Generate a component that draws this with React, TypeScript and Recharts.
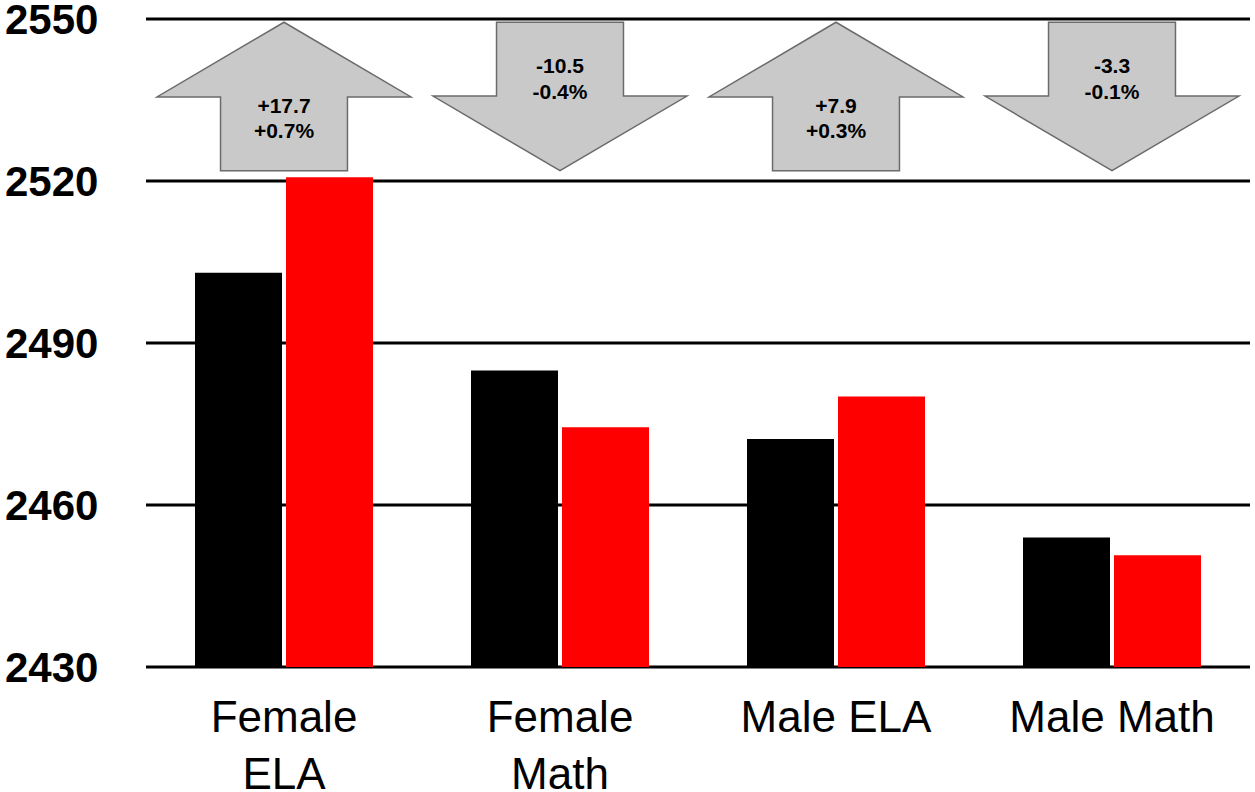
import { Bar, BarChart, CartesianGrid, ReferenceArea, XAxis, YAxis } from "recharts";

const categories = ["Female ELA", "Female Math", "Male ELA", "Male Math"];
const before = [2503.0, 2484.9, 2472.2, 2454.0];
const after = [2520.7, 2474.4, 2480.1, 2450.7];
const changes = ["+17.7", "-10.5", "+7.9", "-3.3"];
const percents = ["+0.7%", "-0.4%", "+0.3%", "-0.1%"];
const yTicks = [2430, 2460, 2490, 2520, 2550];

// arrows sit between these two values
const ARROW_TOP = 2549.4;
const ARROW_BOTTOM = 2521.9;

const FONT = "'Liberation Sans', Arial, sans-serif";

const data = categories.map((name, i) => ({
    name,
    before: before[i],
    after: after[i],
}));

const YTick = (props: any) => {
    const { y, payload } = props;
    return (
        <text x={5} y={y + 15} fontSize={42} fontWeight="bold" fontFamily={FONT} fill="#000">
            {payload.value}
        </text>
    );
};

// long labels break onto two lines, like the original
const XTick = (props: any) => {
    const { x, y, payload } = props;
    const label: string = payload.value;
    const lines = label.length > 9 ? label.split(" ") : [label];
    return (
        <text x={x} y={y + 65} textAnchor="middle" fontSize={44} fontFamily={FONT} fill="#000">
            {lines.map((l, i) => (
                <tspan key={i} x={x} dy={i === 0 ? 0 : 57}>
                    {l}
                </tspan>
            ))}
        </text>
    );
};

interface ArrowProps {
    x?: number;
    y?: number;
    width?: number;
    height?: number;
    change: string;
    percent: string;
}

const Arrow = ({ x = 0, y = 0, width = 0, height = 0, change, percent }: ArrowProps) => {
    const up = !change.startsWith("-");
    const cx = x + width / 2;
    const headW = width * 0.92;
    const shaftW = width * 0.46;
    const headH = height * 0.503;
    let pts: number[][];
    if (up) {
        pts = [
            [cx, y],
            [cx + headW / 2, y + headH],
            [cx + shaftW / 2, y + headH],
            [cx + shaftW / 2, y + height],
            [cx - shaftW / 2, y + height],
            [cx - shaftW / 2, y + headH],
            [cx - headW / 2, y + headH],
        ];
    } else {
        const sh = height - headH;
        pts = [
            [cx - shaftW / 2, y],
            [cx + shaftW / 2, y],
            [cx + shaftW / 2, y + sh],
            [cx + headW / 2, y + sh],
            [cx, y + height],
            [cx - headW / 2, y + sh],
            [cx - shaftW / 2, y + sh],
        ];
    }
    const t1 = up ? 0.61 : 0.345;
    const t2 = up ? 0.78 : 0.52;
    return (
        <g>
            <polygon
                points={pts.map((p) => p.join(",")).join(" ")}
                fill="#c9c9c9"
                stroke="#6b6b6b"
                strokeWidth={1.5}
            />
            <text x={cx} y={y + height * t1} textAnchor="middle" fontSize={21} fontWeight="bold" fontFamily={FONT} fill="#000">
                {change}
            </text>
            <text x={cx} y={y + height * t2} textAnchor="middle" fontSize={21} fontWeight="bold" fontFamily={FONT} fill="#000">
                {percent}
            </text>
        </g>
    );
};

export default function App() {
    return (
        <div style={{ position: "absolute", left: 0, top: 0, background: "#fff" }}>
            <BarChart
                width={1255}
                height={792}
                data={data}
                margin={{ top: 19, right: 5, left: 0, bottom: 0 }}
                barSize={87}
                barGap={4}
            >
                <CartesianGrid vertical={false} stroke="#000" strokeWidth={3} />
                <XAxis
                    dataKey="name"
                    height={125}
                    axisLine={false}
                    tickLine={false}
                    tickSize={0}
                    tickMargin={0}
                    tick={<XTick />}
                    interval={0}
                />
                <YAxis
                    width={146}
                    domain={[2430, 2550]}
                    ticks={yTicks}
                    axisLine={false}
                    tickLine={false}
                    tick={<YTick />}
                    allowDataOverflow
                />
                <Bar dataKey="before" fill="#000000" isAnimationActive={false} />
                <Bar dataKey="after" fill="#ff0000" isAnimationActive={false} />
                {categories.map((c, i) => (
                    <ReferenceArea
                        key={c}
                        x1={c}
                        x2={c}
                        y1={ARROW_BOTTOM}
                        y2={ARROW_TOP}
                        ifOverflow="visible"
                        shape={(p: any) => <Arrow {...p} change={changes[i]} percent={percents[i]} />}
                    />
                ))}
            </BarChart>
        </div>
    );
}
